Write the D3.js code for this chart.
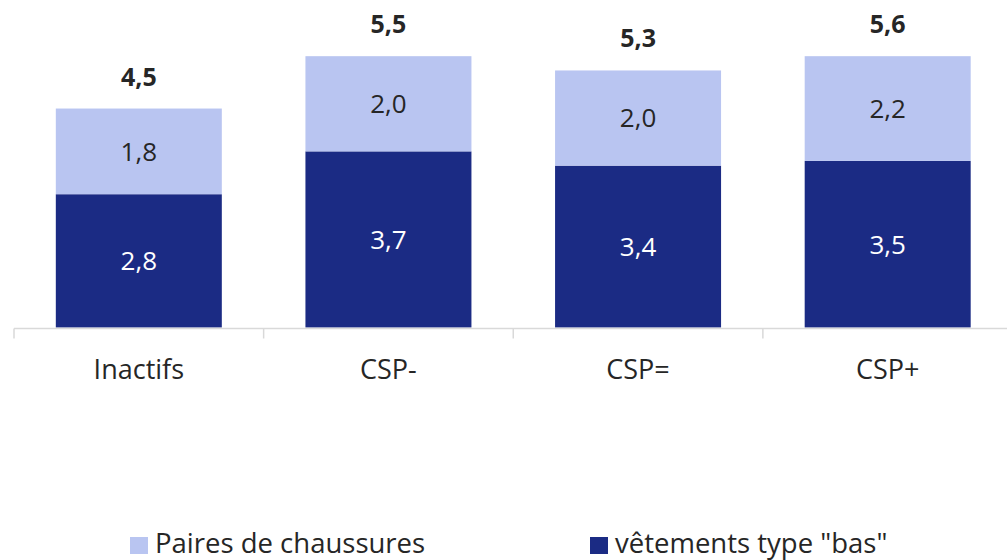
<!DOCTYPE html>
<html>
<head>
<meta charset="utf-8">
<script src="https://cdn.jsdelivr.net/npm/d3@7"></script>
<style>
  body { margin: 0; background: #fff; }
  svg { display: block; }
</style>
</head>
<body>
<svg id="chart" width="1007" height="560"></svg>
<script>
// data
const categories = ['Inactifs', 'CSP-', 'CSP=', 'CSP+'];
const bas = [2.8, 3.7, 3.4, 3.5];            // vêtements type "bas"
const chaussures = [1.8, 2.0, 2.0, 2.2];     // Paires de chaussures
const totals = [4.5, 5.5, 5.3, 5.6];
const seriesNames = ['Paires de chaussures', 'vêtements type "bas"'];

const darkBlue = '#1b2b84';
const lightBlue = '#b9c5f1';
const textColor = '#262626';

const baseY = 327.5;

const svg = d3.select('#chart');

const x = d3.scaleBand()
  .domain(categories)
  .range([14, 1012.5])
  .paddingInner(0.335)
  .paddingOuter(0.1675);

const y = d3.scaleLinear().domain([0, 6]).range([baseY, baseY - 6 * 47.6]);

const fmt = v => d3.format('.1f')(v).replace('.', ',');

const rows = categories.map((c, i) => ({ cat: c, bas: bas[i], chaussures: chaussures[i], total: totals[i] }));
const stack = d3.stack().keys(['bas', 'chaussures'])(rows);
const colors = { bas: darkBlue, chaussures: lightBlue };
const labelColors = { bas: '#ffffff', chaussures: textColor };

// bars
const layers = svg.append('g').selectAll('g')
  .data(stack)
  .join('g')
  .attr('fill', d => colors[d.key]);

layers.selectAll('rect')
  .data(d => d)
  .join('rect')
  .attr('x', d => x(d.data.cat))
  .attr('width', x.bandwidth())
  .attr('y', d => y(d[1]))
  .attr('height', d => y(d[0]) - y(d[1]));

// segment labels
stack.forEach(layer => {
  svg.append('g').selectAll('text')
    .data(layer)
    .join('text')
    .attr('x', d => x(d.data.cat) + x.bandwidth() / 2)
    .attr('y', d => (y(d[0]) + y(d[1])) / 2)
    .attr('dy', '0.36em')
    .attr('text-anchor', 'middle')
    .attr('font-family', 'Open Sans, sans-serif')
    .attr('font-size', 26)
    .attr('fill', labelColors[layer.key])
    .text(d => fmt(d.data[layer.key]));
});

// totals above the stack
const topLayer = stack[stack.length - 1];
svg.append('g').selectAll('text')
  .data(topLayer)
  .join('text')
  .attr('x', d => x(d.data.cat) + x.bandwidth() / 2)
  .attr('y', d => y(d[1]) - 23)
  .attr('text-anchor', 'middle')
  .attr('font-family', 'Open Sans, sans-serif')
  .attr('font-weight', 'bold')
  .attr('font-size', 25)
  .attr('fill', textColor)
  .text(d => fmt(d.data.total));

// axis line + ticks at band boundaries
const axis = svg.append('g').attr('stroke', '#d9d9d9').attr('stroke-width', 1.5);
const r = x.range();
axis.append('line')
  .attr('x1', r[0]).attr('x2', r[1])
  .attr('y1', baseY + 1).attr('y2', baseY + 1);
const bounds = categories.map(c => x(c) - x.step() * x.paddingInner() / 2);
bounds[0] = r[0];
bounds.push(r[1]);
axis.selectAll('line.tick')
  .data(bounds)
  .join('line')
  .attr('class', 'tick')
  .attr('x1', d => d).attr('x2', d => d)
  .attr('y1', baseY + 1).attr('y2', baseY + 11);

// category labels
svg.append('g').selectAll('text')
  .data(categories)
  .join('text')
  .attr('x', d => x(d) + x.bandwidth() / 2)
  .attr('y', 379)
  .attr('text-anchor', 'middle')
  .attr('font-family', 'Open Sans, sans-serif')
  .attr('font-size', 27)
  .attr('fill', textColor)
  .text(d => d);

// legend
const legendX = [130, 590];
const legend = svg.append('g').selectAll('g')
  .data(seriesNames)
  .join('g')
  .attr('transform', (d, i) => `translate(${legendX[i]},537)`);
legend.append('rect')
  .attr('width', 18).attr('height', 17)
  .attr('fill', (d, i) => i === 0 ? lightBlue : darkBlue);
legend.append('text')
  .attr('x', 25)
  .attr('y', 16)
  .attr('font-family', 'Open Sans, sans-serif')
  .attr('font-size', 27.5)
  .attr('fill', textColor)
  .text(d => d);
</script>
</body>
</html>
